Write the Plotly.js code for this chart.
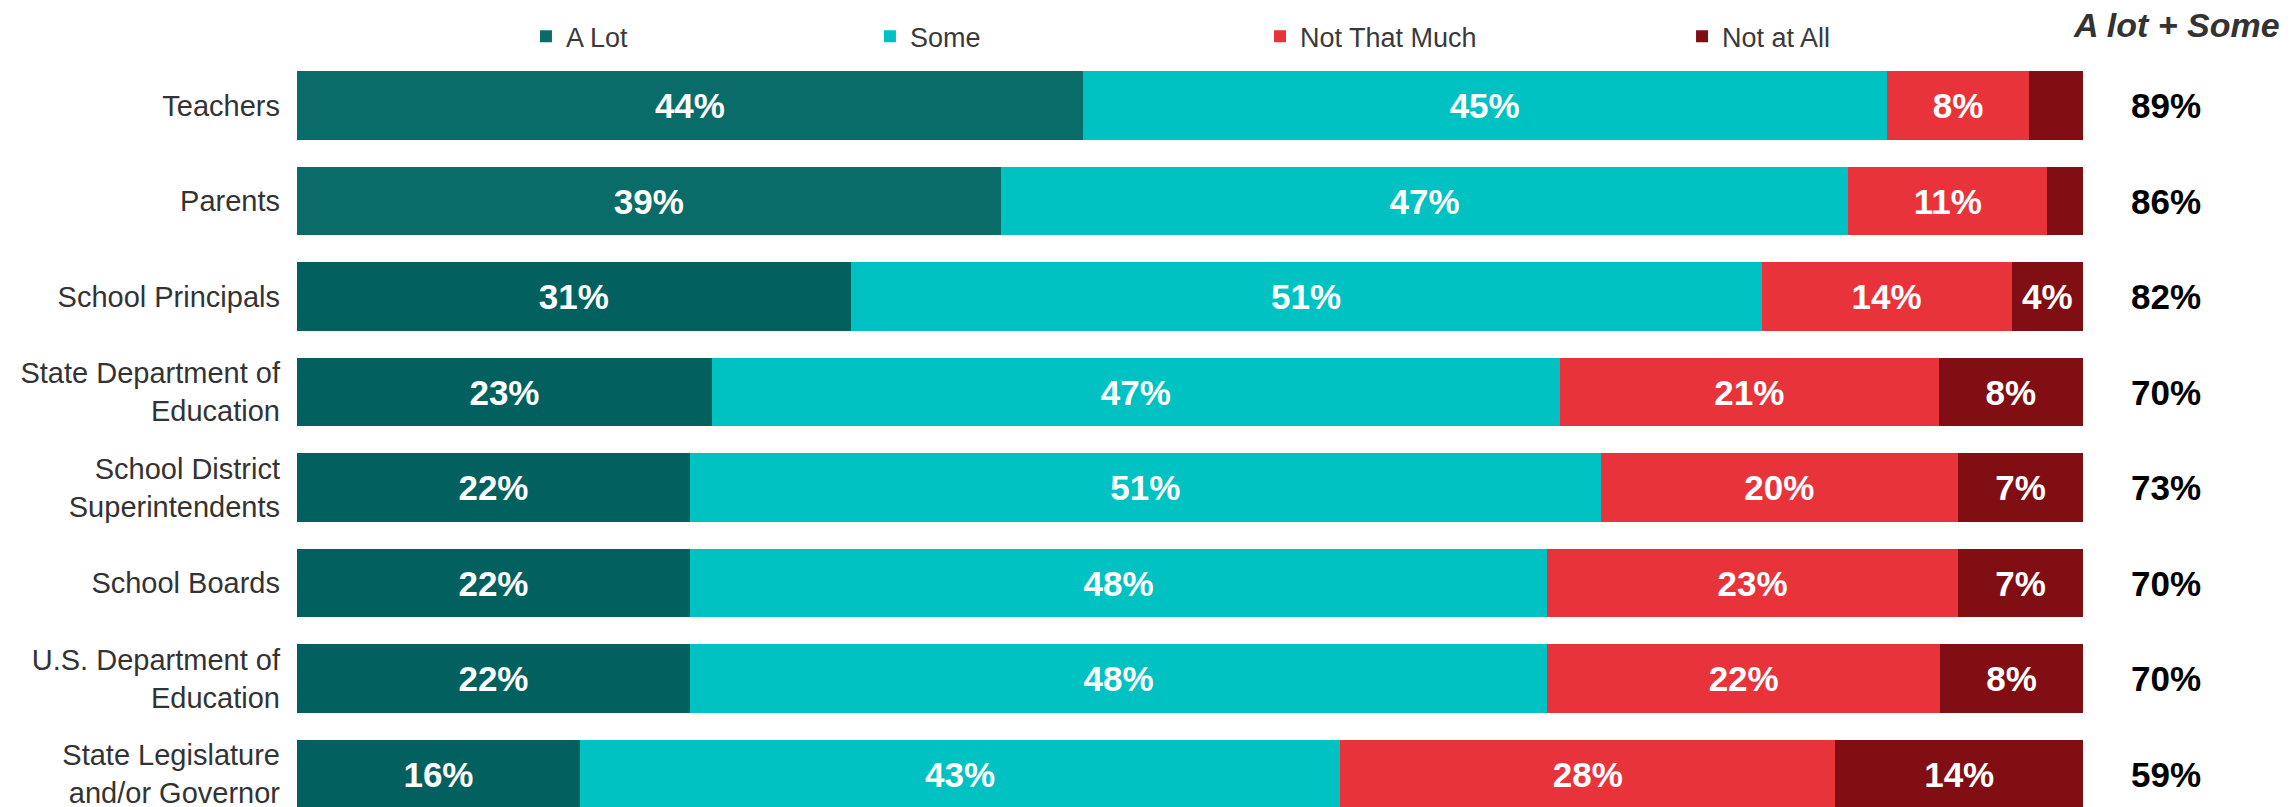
<!DOCTYPE html>
<html>
<head>
<meta charset="utf-8">
<script src="https://cdn.plot.ly/plotly-3.0.1.min.js"></script>
<style>html,body{margin:0;padding:0;background:#fff;}</style>
</head>
<body>
<div id="chart" style="width:2295px;height:807px;"></div>
<script>
const categories = [
  "Teachers",
  "Parents",
  "School Principals",
  "State Department of<br>Education",
  "School District<br>Superintendents",
  "School Boards",
  "U.S. Department of<br>Education",
  "State Legislature<br>and/or Governor"
];
const aLot        = [44, 39, 31, 23, 22, 22, 22, 16];
const some        = [45, 47, 51, 47, 51, 48, 48, 43];
const notThatMuch = [ 8, 11, 14, 21, 20, 23, 22, 28];
const notAtAll    = [ 3,  2,  4,  8,  7,  7,  8, 14];
const seriesNames = ["A Lot", "Some", "Not That Much", "Not at All"];
const totalHeader = "A lot + Some";

const aLotColors = ["#0A6C68", "#0A6C68", "#02615F", "#02615F", "#02615F", "#02615F", "#02615F", "#02615F"];
const colors = [aLotColors, "#00C2C2", "#E9333A", "#800E12"];
const series = [aLot, some, notThatMuch, notAtAll];
const legendIds = ["legend", "legend2", "legend3", "legend4"];

const FONT = "Liberation Sans, Arial, sans-serif";

const traces = series.map((vals, i) => ({
  type: "bar",
  orientation: "h",
  name: seriesNames[i],
  y: categories,
  x: vals,
  text: vals.map(v => v >= 4 ? v + "%" : ""),
  textposition: "inside",
  insidetextanchor: "middle",
  textangle: 0,
  constraintext: "none",
  textfont: {family: FONT, size: 35, color: "#FFFFFF", weight: "bold"},
  marker: {color: colors[i], line: {width: 0}},
  hoverinfo: "skip",
  legend: legendIds[i]
}));

const legendX = [0.1282, 0.3208, 0.5392, 0.7755];
const legendBase = {
  orientation: "h",
  yanchor: "middle",
  xanchor: "left",
  y: 1.027,
  font: {family: FONT, size: 27, color: "#3a3a3a"},
  bgcolor: "rgba(0,0,0,0)",
  borderwidth: 0
};

const annotations = categories.map((c, i) => ({
  xref: "paper", yref: "y",
  x: 1.0465, y: c,
  text: (aLot[i] + some[i]) + "%",
  showarrow: false,
  xanchor: "center", yanchor: "middle",
  font: {family: FONT, size: 35, color: "#000000", weight: "bold"}
}));
annotations.push({
  xref: "paper", yref: "paper",
  x: 1.0526, y: 1.0427,
  text: "<b><i>" + totalHeader + "</i></b>",
  showarrow: false,
  xanchor: "center", yanchor: "middle",
  font: {family: FONT, size: 34, color: "#333333"}
});

const layout = {
  width: 2295,
  height: 807,
  margin: {l: 297, r: 212, t: 57, b: 0, pad: 0},
  paper_bgcolor: "#FFFFFF",
  plot_bgcolor: "#FFFFFF",
  barmode: "stack",
  barnorm: "percent",
  bargap: 0.283,
  xaxis: {range: [0, 100], visible: false, fixedrange: true},
  yaxis: {
    type: "category",
    categoryorder: "array",
    categoryarray: categories,
    range: [7.345, -0.508],
    showgrid: false,
    zeroline: false,
    showline: false,
    ticks: "",
    ticklabelstandoff: 16,
    tickfont: {family: FONT, size: 29, color: "#333333"},
    fixedrange: true
  },
  showlegend: true,
  annotations: annotations
};
legendIds.forEach((id, i) => {
  layout[id] = Object.assign({}, legendBase, {x: legendX[i]});
});

Plotly.newPlot("chart", traces, layout, {displayModeBar: false, staticPlot: true});
</script>
</body>
</html>
